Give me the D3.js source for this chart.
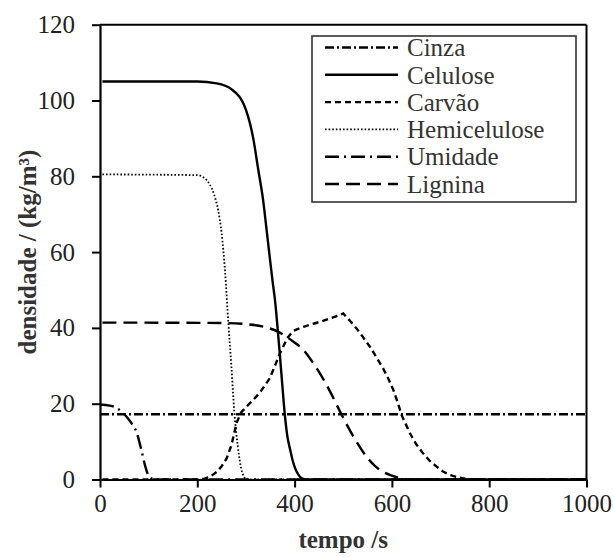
<!DOCTYPE html>
<html>
<head>
<meta charset="utf-8">
<script src="https://cdn.jsdelivr.net/npm/d3@7"></script>
<style>
  body { margin: 0; background: #fff; }
  svg text { font-family: 'Liberation Serif', 'Times New Roman', serif; }
</style>
</head>
<body>
<div id="chart"></div>
<script>
// series names, in legend order
const seriesNames = ['Cinza', 'Celulose', 'Carvão', 'Hemicelulose', 'Umidade', 'Lignina'];

// time (s) / density (kg/m3), one pair per series
const cinzaTime = [0, 1000];
const cinzaDens = [17.2, 17.2];

const celuloseTime = [5, 200, 240, 270, 300, 315, 325, 335, 345, 355, 360, 365, 370, 375, 380, 385, 391, 396, 401, 408, 415, 425, 1000];
const celuloseDens = [105, 105, 104.5, 103, 97.5, 90, 82, 74, 63, 52, 47, 40, 32.5, 24.5, 17, 11.5, 7.8, 5, 3, 1.2, 0.3, 0, 0];

const carvaoTime = [5, 200, 215, 226, 240, 250, 260, 270, 281, 290, 301, 315, 329, 349, 370, 385, 397, 418, 452, 476, 500, 513, 527, 541, 555, 568, 582, 593, 603, 612, 620, 637, 650, 664, 678, 692, 705, 719, 735, 750, 770, 1000];
const carvaoDens = [0, 0, 0.2, 0.7, 2, 3.5, 5.5, 9, 15, 17.7, 19.2, 21, 23, 26.7, 33.3, 37.3, 39.2, 40.3, 41.6, 42.6, 43.8, 42, 39.9, 37.5, 35, 32.3, 29.3, 26.5, 23.6, 20.3, 17, 12.2, 9.3, 6.9, 4.9, 3.4, 2.1, 1.2, 0.6, 0.2, 0, 0];

const hemiTime = [5, 200, 215, 225, 235, 243, 250, 257, 264, 270, 276, 283, 290, 297, 300, 1000];
const hemiDens = [80.5, 80.3, 79.5, 78, 75, 71, 65, 55, 41, 30, 18, 9, 3, 0.5, 0, 0];

const umidadeTime = [0, 20, 35, 45, 55, 65, 75, 85, 92, 98, 105, 115, 1000];
const umidadeDens = [19.8, 19.5, 18.8, 17.8, 16.5, 14.8, 12.5, 7.8, 4, 1.5, 0.3, 0, 0];

const ligninaTime = [5, 250, 300, 340, 366, 397, 418, 435, 452, 473, 497, 521, 548, 565, 582, 600, 615, 635, 1000];
const ligninaDens = [41.4, 41.3, 41, 40.2, 39, 36.4, 34.2, 31.3, 28, 23.2, 17, 11.3, 6, 3.6, 2, 1, 0.4, 0, 0];

const xTicks = [0, 200, 400, 600, 800, 1000];
const yTicks = [0, 20, 40, 60, 80, 100, 120];

const width = 614, height = 557;
const margin = {left: 100, top: 24.7, right: 27.5, bottom: 77.5};
const plotW = width - margin.left - margin.right;
const plotH = height - margin.top - margin.bottom;
const fontSize = 25;

// line styles per series
const styles = {
    'Cinza':        {dash: '9,3,2,3', w: 2.4},
    'Celulose':     {dash: null, w: 2.4},
    'Carvão':       {dash: '6,4', w: 2.4},
    'Hemicelulose': {dash: '1.6,2', w: 1.8},
    'Umidade':      {dash: '14,5,2,5', w: 2.4},
    'Lignina':      {dash: '14,7', w: 2.4}
};

let zipSeries = function(times, dens) {
    return times.map(function(t, i) { return {t: t, d: dens[i]}; });
}

let series = [
    {name: 'Cinza', points: zipSeries(cinzaTime, cinzaDens)},
    {name: 'Celulose', points: zipSeries(celuloseTime, celuloseDens)},
    {name: 'Carvão', points: zipSeries(carvaoTime, carvaoDens), sharp: true},
    {name: 'Hemicelulose', points: zipSeries(hemiTime, hemiDens)},
    {name: 'Umidade', points: zipSeries(umidadeTime, umidadeDens)},
    {name: 'Lignina', points: zipSeries(ligninaTime, ligninaDens)}
];

let svg = d3.select('#chart').append('svg').attr('width', width).attr('height', height);
let g = svg.append('g').attr('transform', 'translate(' + margin.left + ',' + margin.top + ')');

let x = d3.scaleLinear().domain([0, 1000]).range([0, plotW]);
let y = d3.scaleLinear().domain([0, 120]).range([plotH, 0]);

// curves
series.forEach(function(s) {
    let line = d3.line()
        .x(function(p) { return x(p.t); })
        .y(function(p) { return y(p.d); })
        .curve(s.sharp ? d3.curveLinear : d3.curveMonotoneX);
    g.append('path')
        .datum(s.points)
        .attr('d', line)
        .attr('fill', 'none')
        .attr('stroke', '#000')
        .attr('stroke-width', styles[s.name].w)
        .attr('stroke-dasharray', styles[s.name].dash);
});

// frame top and right
g.append('line').attr('x1', 0).attr('x2', plotW).attr('y1', 0).attr('y2', 0)
    .attr('stroke', '#000').attr('stroke-width', 2);
g.append('line').attr('x1', plotW).attr('x2', plotW).attr('y1', 0).attr('y2', plotH)
    .attr('stroke', '#000').attr('stroke-width', 2);

let xAxis = d3.axisBottom(x).tickValues(xTicks).tickFormat(d3.format('d'))
    .tickSizeInner(8).tickSizeOuter(0).tickPadding(7);
let yAxis = d3.axisLeft(y).tickValues(yTicks).tickFormat(d3.format('d'))
    .tickSizeInner(8).tickSizeOuter(0).tickPadding(17);

let gx = g.append('g').attr('transform', 'translate(0,' + plotH + ')').call(xAxis);
let gy = g.append('g').call(yAxis);

[gx, gy].forEach(function(ax) {
    ax.select('.domain').attr('stroke-width', 2.2);
    ax.selectAll('.tick line').attr('stroke-width', 2);
    ax.selectAll('.tick text')
        .attr('font-family', "'Liberation Serif', serif")
        .attr('font-size', fontSize + 'px')
        .attr('fill', '#222');
});

// axis titles
g.append('text')
    .attr('x', plotW / 2).attr('y', plotH + 69)
    .attr('text-anchor', 'middle')
    .attr('font-size', fontSize + 'px').attr('font-weight', 'bold').attr('fill', '#333')
    .text('tempo /s');

g.append('text')
    .attr('transform', 'translate(' + (-64) + ',' + (plotH / 2) + ') rotate(-90)')
    .attr('text-anchor', 'middle')
    .attr('font-size', fontSize + 'px').attr('font-weight', 'bold').attr('fill', '#333')
    .text('densidade / (kg/m³)');

// legend
const legend = {x: 312, y: 36, w: 264, h: 166, rowTop: 47.5, rowGap: 27.3};
let lg = svg.append('g');
lg.append('rect')
    .attr('x', legend.x).attr('y', legend.y).attr('width', legend.w).attr('height', legend.h)
    .attr('fill', '#fff').attr('stroke', '#333').attr('stroke-width', 1.6);

seriesNames.forEach(function(name, i) {
    let ly = legend.rowTop + i * legend.rowGap;
    lg.append('line')
        .attr('x1', 325).attr('x2', 398).attr('y1', ly).attr('y2', ly)
        .attr('stroke', '#000')
        .attr('stroke-width', styles[name].w)
        .attr('stroke-dasharray', styles[name].dash);
    lg.append('text')
        .attr('x', 407).attr('y', ly)
        .attr('dy', '0.35em')
        .attr('font-size', fontSize + 'px').attr('fill', '#333')
        .text(name);
});
</script>
</body>
</html>
